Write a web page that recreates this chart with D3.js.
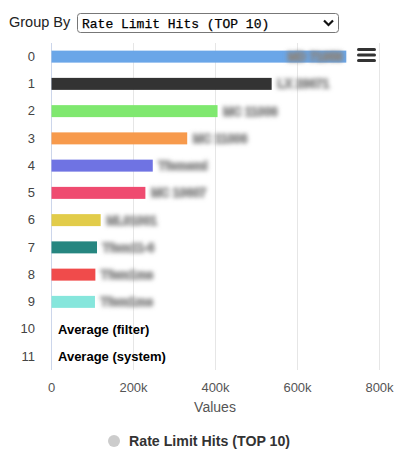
<!DOCTYPE html>
<meta charset="utf-8">
<script src="https://d3js.org/d3.v7.min.js"></script>
<style>
  body { margin: 0; background: #fff; }
  text { font-family: "Liberation Sans", Arial, sans-serif; }
</style>
<body>
<svg width="400" height="454"></svg>
<script>
// chart values
var categories = ["0", "1", "2", "3", "4", "5", "6", "7", "8", "9", "10", "11"];
var values = [719000, 537000, 405000, 331000, 247000, 229000, 120000, 111000, 107000, 106000, 0, 0];
var colors = ["#6aa6e8", "#333333", "#7fe86f", "#f79a4c", "#6f73e3", "#ef4b70", "#e2cc4a", "#268680", "#f04b4b", "#86e6dc", "#6aa6e8", "#6aa6e8"];
// redacted (blurred) data labels, last two are plain
var labels = ["MD 71958", "LX 28671", "MC 11006", "MC 11006", "Tfsmsmi", "MC 10607", "ML01001", "Tfsm11-6", "Tfsm1ms", "Tfsm1ms", "Average (filter)", "Average (system)"];
var xTicks = [0, 200000, 400000, 600000, 800000];
var seriesName = "Rate Limit Hits (TOP 10)";

var svg = d3.select("svg");

var defs = svg.append("defs");
defs.append("filter").attr("id", "blur").attr("x", "-20%").attr("y", "-80%").attr("width", "140%").attr("height", "260%")
  .append("feGaussianBlur").attr("stdDeviation", 2.2);

/* ----------- header ----------- */
svg.append("text").attr("x", 9).attr("y", 27).attr("font-size", 14.5).attr("fill", "#222").text("Group By");
svg.append("rect").attr("x", 77.5).attr("y", 13.5).attr("width", 261).attr("height", 19).attr("rx", 3)
  .attr("fill", "#fff").attr("stroke", "#777");
svg.append("text").attr("x", 82).attr("y", 27.5).attr("font-size", 13)
  .style("font-family", "'Liberation Mono', monospace").attr("fill", "#000")
  .attr("stroke", "#000").attr("stroke-width", 0.25).text(seriesName);
svg.append("path").attr("d", "M324,20.5 L328.5,25 L333,20.5").attr("fill", "none")
  .attr("stroke", "#111").attr("stroke-width", 2.2);

/* ----------- scales ----------- */
var x = d3.scaleLinear().domain([0, 800000]).range([51, 379]);
var y = d3.scaleBand().domain(categories).range([43, 370]).paddingInner(0.56).paddingOuter(0.28);

var g = svg.append("g");

// grid
g.selectAll("line.grid").data(xTicks).enter().append("line")
  .attr("class", "grid")
  .attr("x1", function(d){ return x(d) + 0.5; }).attr("x2", function(d){ return x(d) + 0.5; })
  .attr("y1", 43).attr("y2", 370)
  .attr("stroke", function(d){ return d === 0 ? "#ccd6eb" : "#e6e6e6"; });

// bars
g.selectAll("rect.bar").data(values).enter().append("rect")
  .attr("class", "bar")
  .attr("x", x(0) + 0.5)
  .attr("y", function(d, i){ return y(categories[i]); })
  .attr("width", function(d){ return Math.max(0, x(d) - x(0)); })
  .attr("height", y.bandwidth())
  .attr("fill", function(d, i){ return colors[i]; });

// data labels
g.selectAll("text.lbl").data(values).enter().append("text")
  .attr("class", "lbl")
  .attr("font-weight", "bold")
  .attr("y", function(d, i){ return y(categories[i]) + y.bandwidth() / 2 + 4.5; })
  .each(function(d, i){
    var t = d3.select(this);
    if (i >= 10) {
      t.attr("x", x(d) + 7).attr("font-size", 13).attr("fill", "#000").text(labels[i]);
    } else if (i === 0) {
      t.attr("x", x(d) - 3).attr("font-size", 12).attr("text-anchor", "end").attr("fill", "#888")
        .attr("stroke", "#888").attr("stroke-width", 1.5)
        .attr("filter", "url(#blur)").text(labels[i]);
    } else {
      t.attr("x", x(d) + 6).attr("font-size", 12).attr("fill", "#999")
        .attr("stroke", "#999").attr("stroke-width", 1.5)
        .attr("filter", "url(#blur)").text(labels[i]);
    }
  });

// axes
var yAxis = g.append("g").attr("transform", "translate(35,0)")
  .call(d3.axisLeft(y).tickSize(0).tickPadding(0));
yAxis.select(".domain").remove();
yAxis.selectAll("text").attr("font-size", 13).attr("fill", "#444").style("font-family", "'Liberation Sans', Arial, sans-serif");

var xAxis = g.append("g").attr("transform", "translate(0,378)")
  .call(d3.axisBottom(x).tickValues(xTicks).tickSize(0).tickPadding(0)
    .tickFormat(function(d){ return d === 0 ? "0" : (d / 1000) + "k"; }));
xAxis.select(".domain").remove();
xAxis.selectAll("text").attr("font-size", 13).attr("fill", "#555").attr("dy", "1.05em")
  .style("font-family", "'Liberation Sans', Arial, sans-serif");

svg.append("text").attr("x", 215).attr("y", 412).attr("text-anchor", "middle")
  .attr("font-size", 14).attr("fill", "#555").text("Values");

// context menu icon
svg.selectAll("line.menu").data([49.5, 55, 60.5]).enter().append("line")
  .attr("class", "menu")
  .attr("x1", 358.5).attr("x2", 374.5)
  .attr("y1", function(d){ return d; }).attr("y2", function(d){ return d; })
  .attr("stroke", "#333").attr("stroke-width", 3).attr("stroke-linecap", "round");

/* ----------- legend ----------- */
svg.append("circle").attr("cx", 114).attr("cy", 441).attr("r", 6).attr("fill", "#ccc");
svg.append("text").attr("x", 129).attr("y", 446).attr("font-size", 14.2).attr("font-weight", "bold")
  .attr("fill", "#333").text(seriesName);
</script>
